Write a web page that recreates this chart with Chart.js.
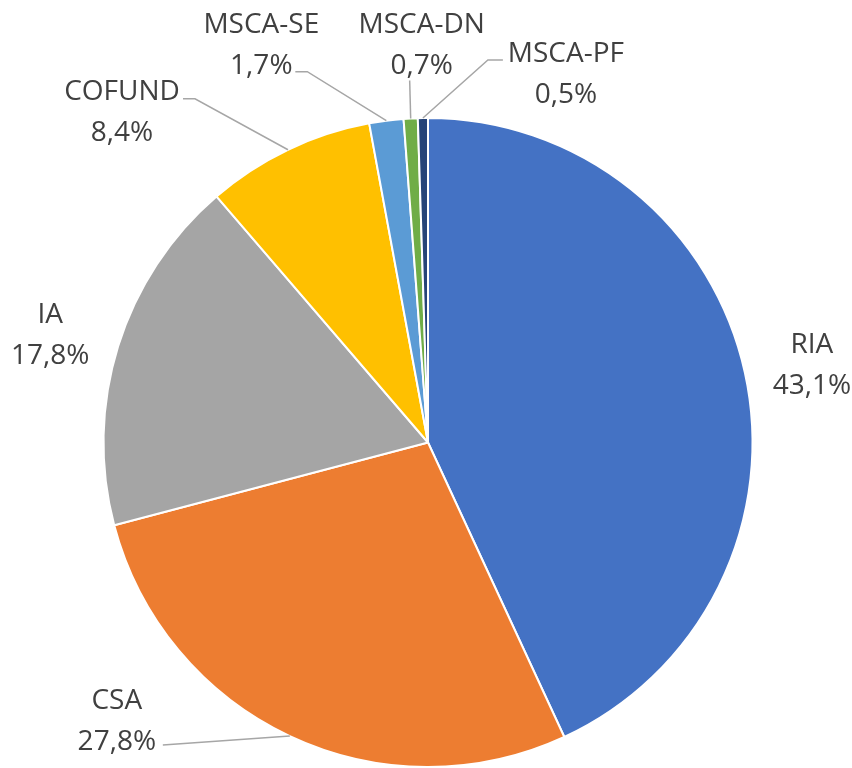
<!DOCTYPE html>
<html>
<head>
<meta charset="utf-8">
<script src="https://cdn.jsdelivr.net/npm/chart.js@4.4.1/dist/chart.umd.min.js"></script>
<style>
  html, body { margin: 0; padding: 0; background: #fff; }
  #wrap { width: 852px; height: 768px; }
</style>
</head>
<body>
<div id="wrap"><canvas id="pieChart" width="852" height="768"></canvas></div>
<script>
// data
const categories = ['RIA', 'CSA', 'IA', 'COFUND', 'MSCA-SE', 'MSCA-DN', 'MSCA-PF'];
const shares = [43.1, 27.8, 17.8, 8.4, 1.7, 0.7, 0.5];
const pctLabels = ['43,1%', '27,8%', '17,8%', '8,4%', '1,7%', '0,7%', '0,5%'];
const colors = ['#4472C4', '#ED7D31', '#A5A5A5', '#FFC000', '#5B9BD5', '#70AD47', '#264478'];

// label placement relative to the slice's outer mid point; leader points relative to label anchor
const labelLayout = [
    { dx: 67, dy: -20, leader: null },
    { dx: -173, dy: -27, leader: [[46, 36]] },
    { dx: -68, dy: -23, leader: null },
    { dx: -166, dy: -50, leader: [[61, -1], [73, -1]] },
    { dx: -125, dy: -88, leader: [[34, 39], [46, 39]] },
    { dx: 11, dy: -85, leader: [[-12, 47]] },
    { dx: 143, dy: -56, leader: [[-63, -2], [-78, -2]] }
];

const outsideLabels = {
    id: 'outsideLabels',
    afterDraw(chart) {
        const ctx = chart.ctx;
        const arcs = chart.getDatasetMeta(0).data;
        ctx.save();
        arcs.forEach((arc, i) => {
            const mid = (arc.startAngle + arc.endAngle) / 2;
            const ex = arc.x + Math.cos(mid) * arc.outerRadius;
            const ey = arc.y + Math.sin(mid) * arc.outerRadius;
            const lay = labelLayout[i];
            const ax = ex + lay.dx, ay = ey + lay.dy;

            if (lay.leader) {
                ctx.strokeStyle = '#A6A6A6';
                ctx.lineWidth = 1.5;
                ctx.beginPath();
                lay.leader.forEach((p, k) => {
                    if (k === 0) ctx.moveTo(ax + p[0], ay + p[1]);
                    else ctx.lineTo(ax + p[0], ay + p[1]);
                });
                ctx.lineTo(ex, ey);
                ctx.stroke();
            }

            ctx.fillStyle = '#404040';
            ctx.font = '28px "Open Sans", sans-serif';
            ctx.textAlign = 'center';
            ctx.textBaseline = 'alphabetic';
            ctx.fillText(categories[i], ax, ay);
            ctx.fillText(pctLabels[i], ax, ay + 41);
        });
        ctx.restore();
    }
};

const canvas = document.getElementById('pieChart');
new Chart(canvas.getContext('2d'), {
    type: 'pie',
    data: {
        labels: categories,
        datasets: [{
            data: shares,
            backgroundColor: colors,
            borderColor: '#ffffff',
            borderWidth: 2
        }]
    },
    options: {
        responsive: false,
        animation: false,
        layout: { padding: { top: 117, bottom: 0, left: 102, right: 98 } },
        plugins: {
            legend: { display: false },
            tooltip: { enabled: false }
        }
    },
    plugins: [outsideLabels]
});
</script>
</body>
</html>
